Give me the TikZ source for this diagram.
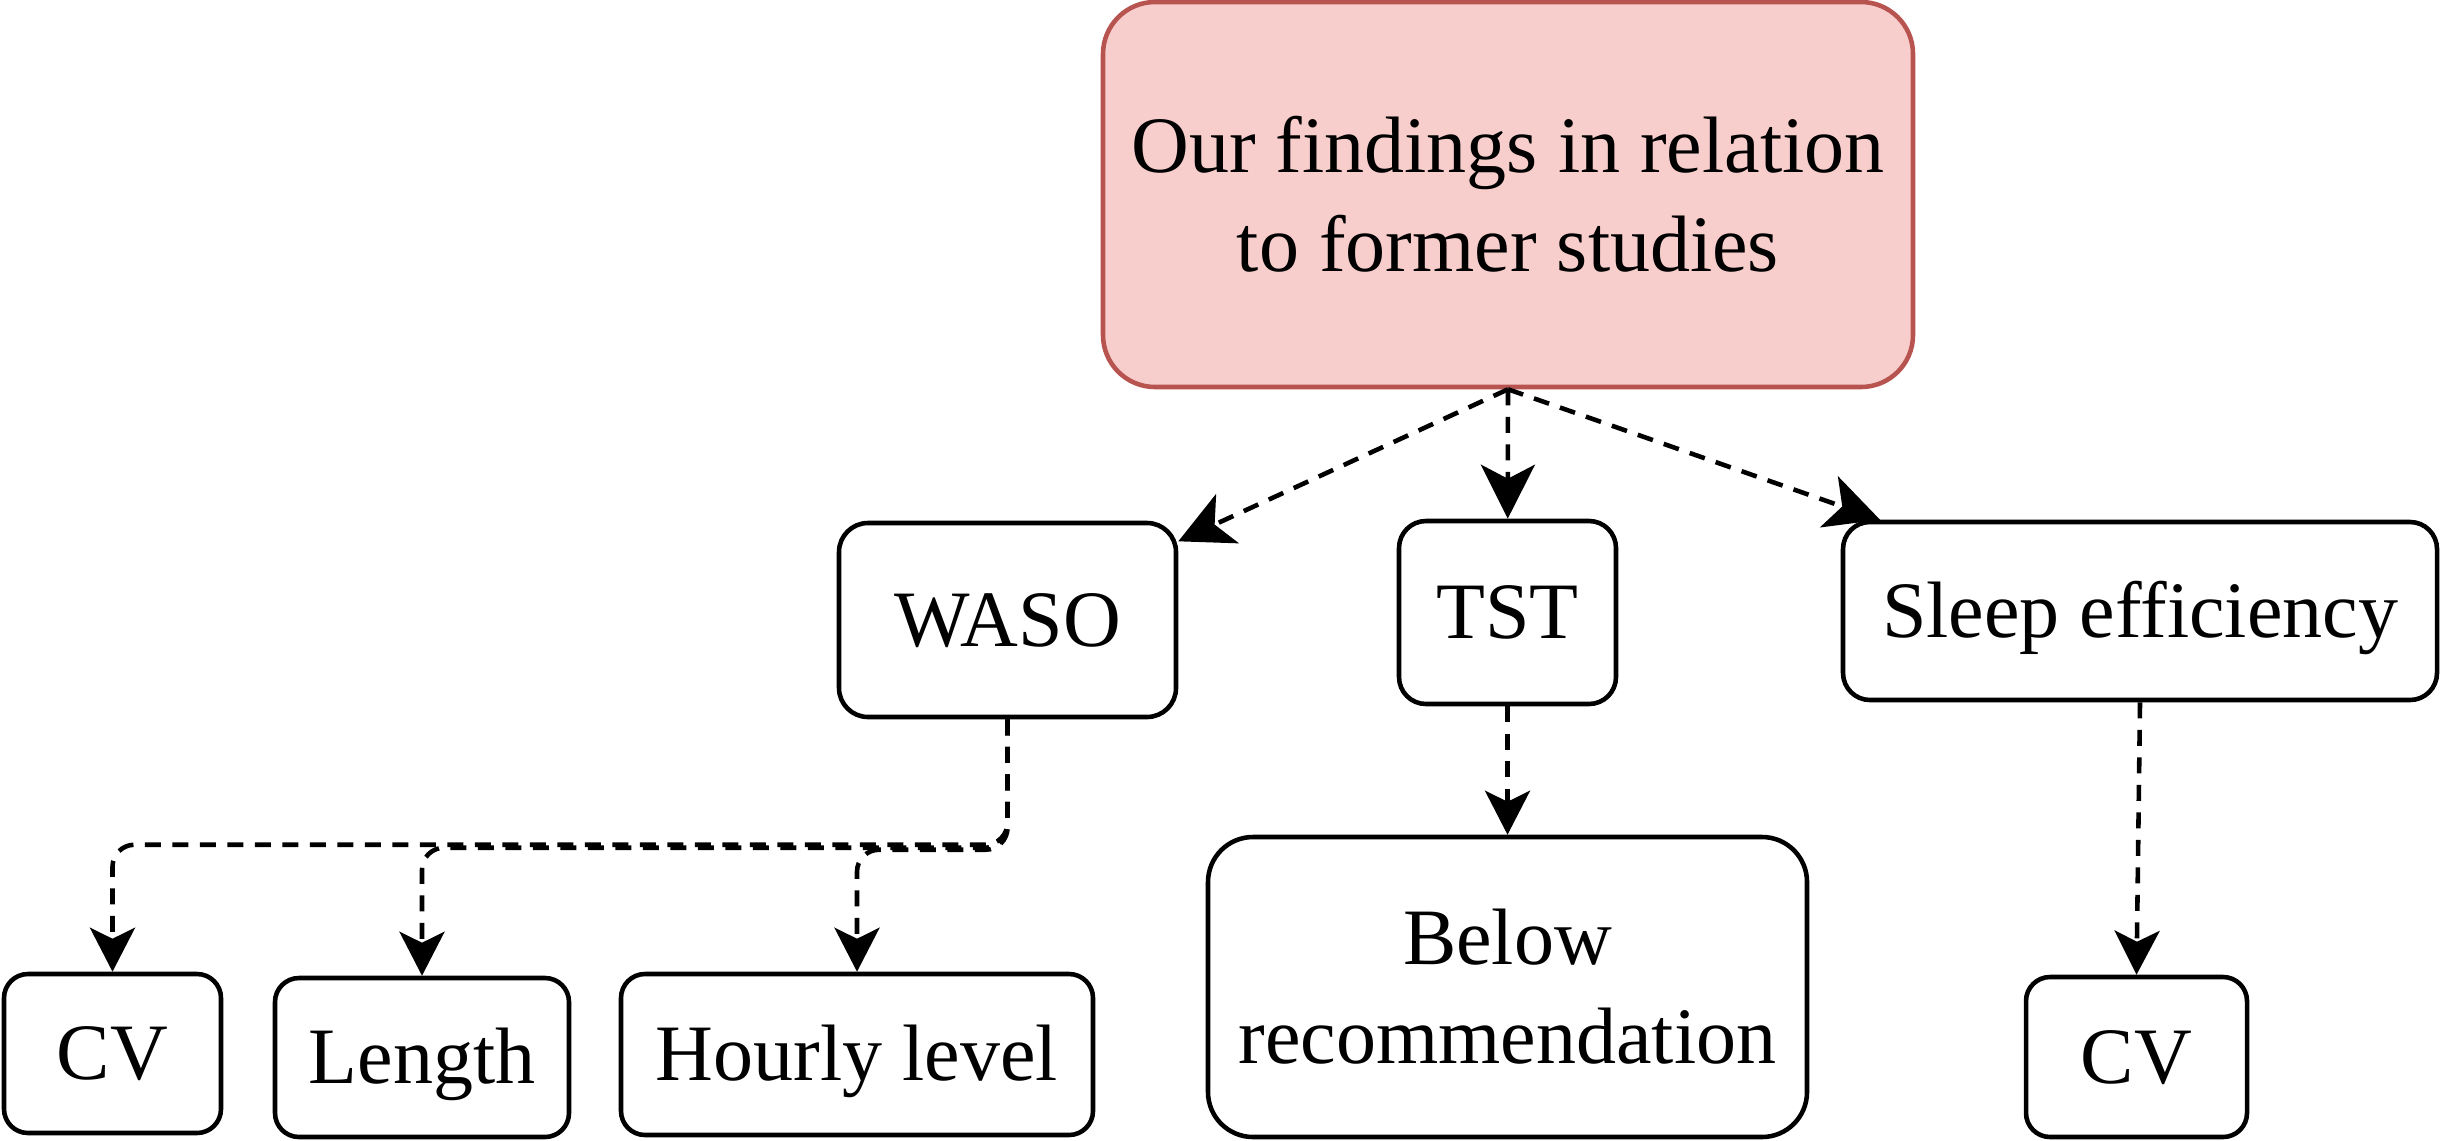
\documentclass[tikz,border=0pt]{standalone}
\usepackage{fontspec}
\setmainfont{Liberation Serif}
\usepackage{tikz}
\usetikzlibrary{arrows.meta}
\definecolor{rootfill}{HTML}{F8CECC}
\definecolor{rootdraw}{HTML}{B85450}

\begin{document}
\begin{tikzpicture}[
  font=\fontsize{22.76pt}{28.2pt}\selectfont,
  itembox/.style={rounded corners=#1, draw=black, line width=1.3pt, fill=white, align=center, inner sep=0pt},
  itembox/.default=0.24cm,
  oneline/.style={text height=15pt, text depth=0pt},
  rootbox/.style={rounded corners=0.52cm, draw=rootdraw, line width=1.3pt, fill=rootfill, align=center, inner sep=0pt, minimum width=8.1cm, minimum height=3.85cm},
  arrow/.style={-{Stealth[length=4.4mm, width=4.5mm, inset=1.1mm]}, line width=1.3pt, dash pattern=on 1.6mm off 1.15mm, rounded corners=0.22cm},
  bigarrow/.style={arrow, -{Stealth[length=5.4mm, width=5.4mm, inset=1.4mm]}}
]
  \useasboundingbox (0,0) rectangle (24.4,-11.4);

  \node[rootbox] (top) at (15.08,-1.945) {Our findings in relation\\to former studies};

  \node[itembox=0.29cm, oneline, minimum width=3.37cm, minimum height=1.94cm] (waso)  at (10.075,-6.20) {WASO};
  \node[itembox=0.27cm, oneline, minimum width=2.17cm, minimum height=1.83cm] (tst)   at (15.075,-6.125) {TST};
  \node[itembox=0.27cm, oneline, minimum width=5.94cm, minimum height=1.78cm] (sleep) at (21.40,-6.11) {Sleep efficiency};

  \node[itembox, oneline, minimum width=2.17cm, minimum height=1.59cm] (cvw)    at (1.125,-10.535) {CV};
  \node[itembox, oneline, minimum width=2.94cm, minimum height=1.59cm] (length) at (4.22,-10.575) {Length};
  \node[itembox, oneline, minimum width=4.72cm, minimum height=1.61cm] (hourly) at (8.57,-10.545) {Hourly level};
  \node[itembox=0.45cm, minimum width=5.99cm, minimum height=3.00cm] (below) at (15.075,-9.87) {Below\\recommendation};
  \node[itembox, oneline, minimum width=2.21cm, minimum height=1.60cm] (cvs)    at (21.365,-10.57) {CV};

  \draw[bigarrow] (top.south) -- (waso);
  \draw[bigarrow] (top.south) -- (tst);
  \draw[bigarrow] (top.south) -- (sleep);
  \draw[arrow] (waso.south) |- ([yshift=1.27cm]cvw.north) -- (cvw.north);
  \draw[arrow] (waso.south) |- ([yshift=1.28cm]length.north) -- (length.north);
  \draw[arrow] (waso.south) |- ([yshift=1.22cm]hourly.north) -- (hourly.north);
  \draw[arrow] (tst) -- (below);
  \draw[arrow] (sleep.south) -- (cvs.north);
\end{tikzpicture}
\end{document}
